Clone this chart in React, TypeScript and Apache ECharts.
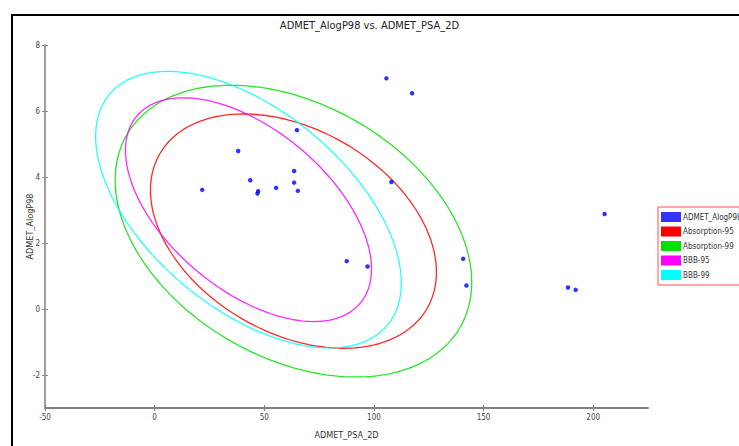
import React, { useEffect, useRef } from "react";
import * as echarts from "echarts";

// Compound values (ADMET_PSA_2D, ADMET_AlogP98)
const psaValues = [21.7, 38.1, 43.6, 46.9, 47.2, 55.4, 63.6, 63.6, 65.3, 64.9, 105.7, 117.4, 108.0, 87.6, 97.1, 140.7, 142.2, 188.5, 192.0, 205.2];
const alogpValues = [3.61, 4.79, 3.9, 3.5, 3.57, 3.67, 4.18, 3.83, 3.58, 5.42, 6.99, 6.54, 3.85, 1.45, 1.29, 1.52, 0.71, 0.65, 0.58, 2.88];

// Confidence ellipses (data units)
const ellipseNames = ["Absorption-95", "Absorption-99", "BBB-95", "BBB-99"];
const ellipseCenterX = [63.3, 63.3, 42.8, 42.8];
const ellipseCenterY = [2.36, 2.36, 3.01, 3.01];
const ellipseHalfWidth = [65.2, 81.3, 56.1, 69.7];
const ellipseHalfHeight = [3.55, 4.42, 3.39, 4.19];
const ellipseCorrelation = [-0.35, -0.35, -0.53, -0.53];
const ellipseColors = ["#ff0000", "#00e000", "#ff00ff", "#00ffff"];

const xTicks = [-50, 0, 50, 100, 150, 200];
const yTicks = [-2, 0, 2, 4, 6, 8];

const FONT = "'Liberation Sans Narrow', 'DejaVu Sans Condensed', 'Liberation Sans', sans-serif";

function ellipsePoints(i: number): number[][] {
  const pts: number[][] = [];
  const n = 240;
  const r = ellipseCorrelation[i];
  const s = Math.sqrt(1 - r * r);
  for (let k = 0; k <= n; k++) {
    const t = (k / n) * Math.PI * 2;
    const x = ellipseCenterX[i] + ellipseHalfWidth[i] * Math.cos(t);
    const y = ellipseCenterY[i] + ellipseHalfHeight[i] * (r * Math.cos(t) + s * Math.sin(t));
    pts.push([x, y]);
  }
  return pts;
}

export default function App() {
  const ref = useRef<HTMLDivElement>(null);
  useEffect(() => {
    if (!ref.current) return;
    const chart = echarts.init(ref.current, null, { renderer: "svg" });
    const scatterData = psaValues.map((v, i) => [v, alogpValues[i]]);
    const ellipseSeries = ellipseNames.map((name, i) => ({
      name,
      type: "line",
      data: ellipsePoints(i),
      showSymbol: false,
      symbol: "none",
      smooth: false,
      xAxisIndex: 0,
      yAxisIndex: 0,
      color: ellipseColors[i],
      itemStyle: { color: ellipseColors[i] },
      lineStyle: { color: ellipseColors[i], width: 1.3, opacity: 0.85 },
      z: 2,
    }));
    chart.setOption({
      animation: false,
      backgroundColor: "#ffffff",
      title: {
        text: "ADMET_AlogP98 vs. ADMET_PSA_2D",
        left: "center",
        top: 15,
        textStyle: { fontFamily: FONT, fontSize: 11, fontWeight: "normal", color: "#222" },
      },
      graphic: [
        {
          type: "rect",
          shape: { x: 12, y: 15, width: 800, height: 500 },
          style: { fill: "none", stroke: "#000", lineWidth: 2 },
          silent: true,
          z: 100,
        },
      ],
      legend: {
        orient: "vertical",
        left: 658,
        top: 207,
        icon: "rect",
        itemWidth: 20,
        itemHeight: 10,
        itemGap: 4.5,
        padding: [5, 20, 5, 3],
        borderColor: "#ff5050",
        borderWidth: 1,
        backgroundColor: "#fff",
        textStyle: { fontFamily: FONT, fontSize: 8, color: "#333", padding: [0, 0, 0, -3] },
        data: ["ADMET_AlogP98", ...ellipseNames],
      },
      grid: { left: 45, top: 45, width: 603, height: 363 },
      xAxis: [
        {
          type: "value",
          min: -50,
          max: 225,
          name: "ADMET_PSA_2D",
          nameLocation: "middle",
          nameGap: 22,
          nameMoveOverlap: false,
          nameTextStyle: { fontFamily: FONT, fontSize: 9, color: "#333" },
          axisLine: { show: true, onZero: false, lineStyle: { color: "#808080", width: 2 } },
          axisTick: { show: true, length: 3, customValues: xTicks, lineStyle: { color: "#808080" } },
          axisLabel: { customValues: xTicks, margin: 5, fontFamily: FONT, fontSize: 8, color: "#444" },
          splitLine: { show: false },
        },
        {
          type: "value",
          min: -50,
          max: 225,
          position: "bottom",
          axisLine: { show: false, onZero: false },
          axisTick: { show: true, inside: true, length: 3, customValues: xTicks, lineStyle: { color: "#808080" } },
          axisLabel: { show: false },
          splitLine: { show: false },
        },
      ],
      yAxis: [
        {
          type: "value",
          min: -3,
          max: 8,
          name: "ADMET_AlogP98",
          nameLocation: "middle",
          nameGap: 11,
          nameMoveOverlap: false,
          nameTextStyle: { fontFamily: FONT, fontSize: 9, color: "#333" },
          axisLine: { show: true, onZero: false, lineStyle: { color: "#a0a0a0", width: 2 } },
          axisTick: { show: true, length: 3, customValues: yTicks, lineStyle: { color: "#909090" } },
          axisLabel: { customValues: yTicks, margin: 5, fontFamily: FONT, fontSize: 8, color: "#444" },
          splitLine: { show: false },
        },
        {
          type: "value",
          min: -3,
          max: 8,
          position: "left",
          axisLine: { show: false, onZero: false },
          axisTick: { show: true, inside: true, length: 3, customValues: yTicks, lineStyle: { color: "#909090" } },
          axisLabel: { show: false },
          splitLine: { show: false },
        },
      ],
      series: [
        ...ellipseSeries,
        {
          name: "ADMET_AlogP98",
          type: "scatter",
          data: scatterData,
          symbol: "circle",
          symbolSize: 4.5,
          xAxisIndex: 0,
          yAxisIndex: 0,
          color: "#0000ff",
          itemStyle: { color: "#0000ff" },
          z: 5,
        },
      ],
    });
    return () => chart.dispose();
  }, []);
  return (
    <div
      ref={ref}
      style={{ position: "fixed", left: 0, top: 0, width: 739, height: 446, background: "#fff" }}
    />
  );
}
